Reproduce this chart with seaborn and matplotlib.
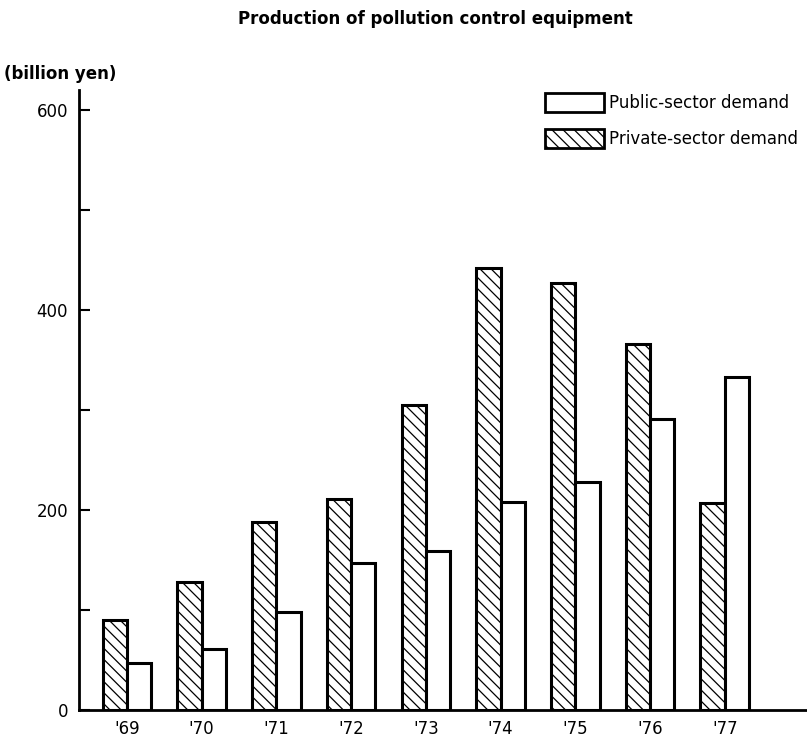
import pandas as pd
import seaborn as sns
import matplotlib.pyplot as plt
from matplotlib.patches import Patch

# values (billion yen)
years = ["'69", "'70", "'71", "'72", "'73", "'74", "'75", "'76", "'77"]
private_demand = [90, 128, 188, 211, 305, 442, 427, 366, 207]
public_demand = [47, 61, 98, 147, 159, 208, 228, 291, 333]

df = pd.DataFrame({
    'year': years * 2,
    'value': private_demand + public_demand,
    'sector': ['Private-sector demand'] * len(years) + ['Public-sector demand'] * len(years),
})

sns.set_style('white')
plt.rcParams['font.family'] = ['DejaVu Sans']
plt.rcParams['hatch.linewidth'] = 0.9
plt.rcParams['text.color'] = 'black'
plt.rcParams['xtick.color'] = 'black'
plt.rcParams['ytick.color'] = 'black'

fig = plt.figure(figsize=(8.07, 7.44), dpi=100)
ax = fig.add_axes([79 / 807, 34 / 744, 1 - 79 / 807, (710 - 90) / 744])

sns.barplot(data=df, x='year', y='value', hue='sector',
            hue_order=['Private-sector demand', 'Public-sector demand'],
            palette=['white', 'white'], width=0.65, gap=0,
            edgecolor='black', linewidth=2.2, legend=False, ax=ax)

# hatch the private-sector bars (first hue level)
for p in ax.patches[:len(years)]:
    p.set_hatch('\\\\\\')

ax.set_ylim(0, 620)
ax.set_xlim(-0.64, 9.1)
ax.set_yticks(range(0, 601, 100))
ax.set_yticklabels(['0', '', '200', '', '400', '', '600'])
ax.tick_params(axis='y', direction='in', length=8, width=1.5, labelsize=12, pad=8, left=True)
ax.tick_params(axis='x', length=0, labelsize=12, pad=7)
ax.set_xlabel('')
ax.set_ylabel('')
for s in ['top', 'right']:
    ax.spines[s].set_visible(False)
for s in ['left', 'bottom']:
    ax.spines[s].set_linewidth(2)
    ax.spines[s].set_color('black')

handles = [Patch(facecolor='white', edgecolor='black', linewidth=2, label='Public-sector demand'),
           Patch(facecolor='white', edgecolor='black', linewidth=2, hatch='\\\\\\', label='Private-sector demand')]
ax.legend(handles=handles, loc='upper left', bbox_to_anchor=(0.62, 1.02), frameon=False,
          fontsize=12, handlelength=3.5, handleheight=1.4, labelspacing=1.0, handletextpad=0.3)

fig.text(0.54, 0.975, 'Production of pollution control equipment', ha='center', va='center',
         fontsize=12, fontweight='bold')
fig.text(0.005, 0.9, '(billion yen)', ha='left', va='center', fontsize=12, fontweight='bold')

fig.savefig('out.png', dpi=100, facecolor='white')
